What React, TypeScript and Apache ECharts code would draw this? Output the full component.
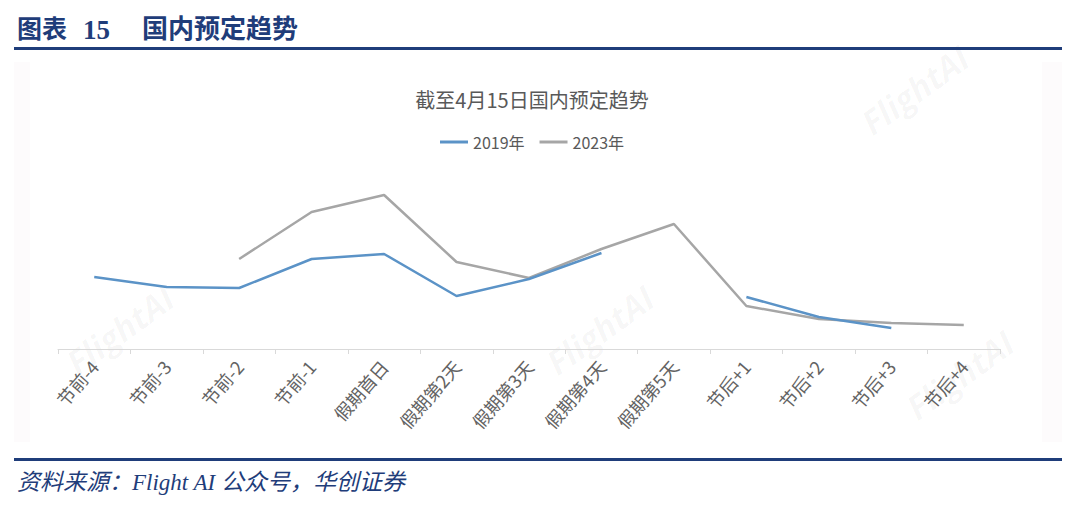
import React, { useEffect, useRef } from "react";
import * as echarts from "echarts";

const categories = [
  "节前-4", "节前-3", "节前-2", "节前-1", "假期首日", "假期第2天", "假期第3天",
  "假期第4天", "假期第5天", "节后+1", "节后+2", "节后+3", "节后+4",
];
const values2019 = [72, 62, 61, 90, 95, 53, 70, 96, null, 52, 32, 21, null];
const values2023 = [null, null, 90, 137, 154, 87, 71, 100, 125, 43, 30, 26, 24];
const seriesNames = ["2019年", "2023年"];

const NAVY = "#1f3d7a";
const CJK = '"Noto Sans CJK SC", "Noto Sans", sans-serif';
const SERIF = '"Liberation Serif", "Noto Sans CJK SC", serif';

export default function App() {
  const ref = useRef<HTMLDivElement>(null);
  useEffect(() => {
    if (!ref.current) return;
    const chart = echarts.init(ref.current, null, { renderer: "svg" });
    const wm = (x: number, y: number) => ({
      type: "text",
      x,
      y,
      rotation: Math.PI / 5,
      z: -5,
      style: {
        text: "FlightAI",
        fill: "rgba(0,0,0,0.035)",
        font: 'italic bold 34px "Open Sans", sans-serif',
        textAlign: "center",
        textVerticalAlign: "middle",
      },
    });
    chart.setOption({
      animation: false,
      backgroundColor: "#ffffff",
      title: {
        text: "截至4月15日国内预定趋势",
        left: 527,
        top: 84,
        textAlign: "center",
        textStyle: { color: "#595959", fontSize: 20, fontWeight: "normal", fontFamily: CJK },
      },
      legend: {
        data: seriesNames,
        left: 435,
        top: 129,
        icon: "rect",
        itemWidth: 28,
        itemHeight: 3,
        itemGap: 15,
        textStyle: { color: "#595959", fontSize: 16, fontFamily: CJK },
      },
      grid: { left: 58, right: 80, top: 149, bottom: 166, containLabel: false },
      xAxis: {
        type: "category",
        data: categories,
        boundaryGap: true,
        axisLine: { lineStyle: { color: "#d9d9d9", width: 1 } },
        axisTick: { show: true, length: 5, lineStyle: { color: "#d9d9d9" } },
        axisLabel: {
          rotate: 49,
          interval: 0,
          margin: 14,
          color: "#636363",
          fontSize: 18,
          fontFamily: CJK,
        },
      },
      yAxis: {
        type: "value",
        min: 0,
        max: 200,
        show: false,
        splitLine: { show: false },
      },
      series: [
        {
          name: seriesNames[0],
          type: "line",
          data: values2019,
          symbol: "none",
          connectNulls: false,
          lineStyle: { color: "#5b93c7", width: 2.5 },
          itemStyle: { color: "#5b93c7" },
          z: 3,
        },
        {
          name: seriesNames[1],
          type: "line",
          data: values2023,
          symbol: "none",
          connectNulls: false,
          lineStyle: { color: "#a6a6a6", width: 2.5 },
          itemStyle: { color: "#a6a6a6" },
          z: 2,
        },
      ],
      graphic: [
        { type: "rect", z: -10, shape: { x: 14, y: 62, width: 1048, height: 380 }, style: { fill: "#fdfbfc" } },
        { type: "rect", z: -9, shape: { x: 30, y: 62, width: 1012, height: 380 }, style: { fill: "#ffffff" } },
        wm(120, 330),
        wm(600, 330),
        wm(960, 375),
        wm(915, 90),
        { type: "rect", shape: { x: 14, y: 47, width: 1048, height: 3 }, style: { fill: NAVY } },
        { type: "rect", shape: { x: 14, y: 458, width: 1048, height: 3 }, style: { fill: NAVY } },
        {
          type: "text",
          x: 17,
          y: 29,
          style: { text: "图表", fill: NAVY, font: `bold 25px ${SERIF}`, textVerticalAlign: "middle" },
        },
        {
          type: "text",
          x: 83,
          y: 30,
          style: { text: "15", fill: NAVY, font: `bold 27px ${SERIF}`, textVerticalAlign: "middle" },
        },
        {
          type: "text",
          x: 142,
          y: 29,
          style: { text: "国内预定趋势", fill: NAVY, font: `bold 26px ${SERIF}`, textVerticalAlign: "middle" },
        },
        {
          type: "text",
          x: 17,
          y: 482,
          style: {
            text: "资料来源：Flight AI 公众号，华创证券",
            fill: NAVY,
            font: `italic 23px ${SERIF}`,
            textVerticalAlign: "middle",
          },
        },
      ],
    });
    return () => chart.dispose();
  }, []);
  return (
    <div
      ref={ref}
      style={{ position: "absolute", left: 0, top: 0, width: 1080, height: 515 }}
    />
  );
}
